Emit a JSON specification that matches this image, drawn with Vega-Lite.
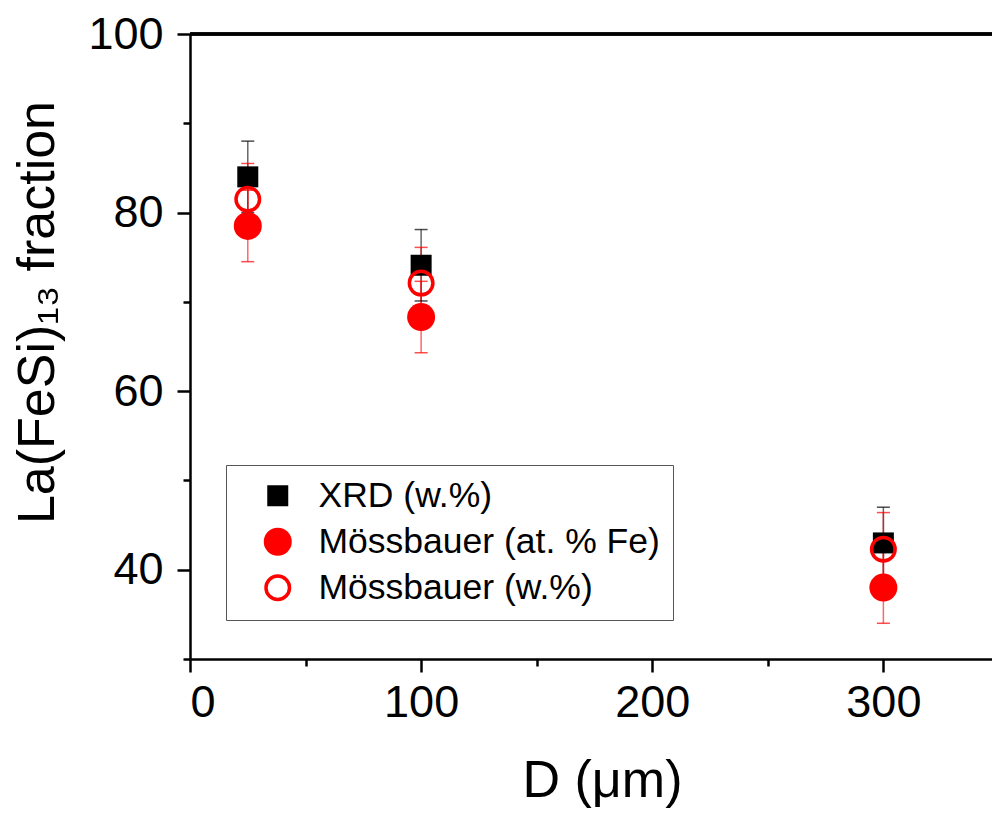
{
  "$schema": "https://vega.github.io/schema/vega-lite/v6.json",
  "width": 802,
  "height": 625,
  "autosize": {"type": "none"},
  "padding": {"left": 190, "top": 34, "right": 0, "bottom": 155},
  "background": "white",
  "config": {
    "view": {"stroke": null},
    "font": "Liberation Sans",
    "axis": {"grid": false, "domainColor": "black", "tickColor": "black", "labelColor": "black", "titleColor": "black", "domainWidth": 2.5, "tickWidth": 2.5, "titleFontWeight": "normal", "labelFontSize": 45, "titleFontSize": 52, "labelFont": "Liberation Sans", "titleFont": "Liberation Sans"}
  },
  "data": {
    "values": [
      {"D": 25, "series": "XRD (w.%)", "v": 84.0, "lo": 80.0, "hi": 88.0},
      {"D": 100, "series": "XRD (w.%)", "v": 74.1, "lo": 70.1, "hi": 78.1},
      {"D": 300, "series": "XRD (w.%)", "v": 43.0, "lo": 39.0, "hi": 47.0},
      {"D": 25, "series": "Mössbauer (at. % Fe)", "v": 78.5, "lo": 74.5, "hi": 82.5},
      {"D": 100, "series": "Mössbauer (at. % Fe)", "v": 68.3, "lo": 64.3, "hi": 72.3},
      {"D": 300, "series": "Mössbauer (at. % Fe)", "v": 38.0, "lo": 34.0, "hi": 42.0},
      {"D": 25, "series": "Mössbauer (w.%)", "v": 81.5, "lo": 77.5, "hi": 85.5},
      {"D": 100, "series": "Mössbauer (w.%)", "v": 72.1, "lo": 68.1, "hi": 76.1},
      {"D": 300, "series": "Mössbauer (w.%)", "v": 42.3, "lo": 38.3, "hi": 46.4}
    ]
  },
  "layer": [
    {
      "mark": {"type": "rule", "strokeWidth": 2.5, "color": "black"},
      "encoding": {"y": {"datum": 100, "type": "quantitative"}}
    },
    {
      "mark": {"type": "rule", "strokeWidth": 1.5, "opacity": 0.6},
      "encoding": {
        "x": {"field": "D", "type": "quantitative"},
        "y": {"field": "lo", "type": "quantitative"},
        "y2": {"field": "hi"},
        "color": {"field": "series", "type": "nominal", "scale": {"domain": ["Mössbauer (at. % Fe)", "Mössbauer (w.%)", "XRD (w.%)"], "range": ["red", "red", "black"]}, "legend": null}
      }
    },
    {
      "mark": {"type": "tick", "orient": "horizontal", "size": 13, "thickness": 1.5, "opacity": 0.7},
      "encoding": {
        "x": {"field": "D", "type": "quantitative"},
        "y": {"field": "lo", "type": "quantitative"},
        "color": {"field": "series", "type": "nominal", "legend": null}
      }
    },
    {
      "mark": {"type": "tick", "orient": "horizontal", "size": 13, "thickness": 1.5, "opacity": 0.7},
      "encoding": {
        "x": {"field": "D", "type": "quantitative"},
        "y": {"field": "hi", "type": "quantitative"},
        "color": {"field": "series", "type": "nominal", "legend": null}
      }
    },
    {
      "mark": {"type": "point", "opacity": 1, "strokeWidth": 3.5, "size": 784},
      "encoding": {
        "x": {"field": "D", "type": "quantitative", "scale": {"domain": [0, 347], "nice": false, "zero": false},
              "axis": {"orient": "bottom", "values": [0, 50, 100, 150, 200, 250, 300], "tickSize": {"condition": {"test": "datum.value % 100 === 0", "value": 13}, "value": 7}, "labelExpr": "datum.value % 100 === 0 ? datum.label : ''", "labelPadding": 8, "title": "D (μm)", "titleX": 412, "titleY": 137, "titleBaseline": "alphabetic", "titleAlign": "center"}},
        "y": {"field": "v", "type": "quantitative", "scale": {"domain": [30, 100], "nice": false, "zero": false},
              "axis": {"orient": "left", "values": [30, 40, 50, 60, 70, 80, 90, 100], "tickSize": {"condition": {"test": "datum.value % 20 === 0", "value": 13}, "value": 7}, "labelExpr": "datum.value % 20 === 0 ? datum.label : ''", "labelPadding": 14, "title": "La(FeSi)₁₃ fraction", "titleX": -153, "titleY": 278, "titleAlign": "center", "titleBaseline": "middle", "titleAngle": -90}},
        "shape": {"field": "series", "type": "nominal",
                  "scale": {"domain": ["XRD (w.%)", "Mössbauer (at. % Fe)", "Mössbauer (w.%)"], "range": ["M-0.75,-0.75H0.75V0.75H-0.75Z", "circle", "M-0.84,0A0.84,0.84 0 1,0 0.84,0A0.84,0.84 0 1,0 -0.84,0Z"]},
                  "legend": {"title": null, "orient": "none", "legendX": 36, "legendY": 431, "strokeColor": "#555555", "padding": 13, "symbolOffset": 21, "labelFontSize": 35.5, "labelFont": "Liberation Sans", "labelColor": "black", "labelOffset": 23, "labelLimit": 0, "rowPadding": 5, "symbolStrokeWidth": 3.5, "symbolSize": 784, "fillColor": "white"}},
        "fill": {"field": "series", "type": "nominal", "scale": {"domain": ["XRD (w.%)", "Mössbauer (at. % Fe)", "Mössbauer (w.%)"], "range": ["black", "red", "transparent"]},
                 "legend": {"title": null, "orient": "none", "legendX": 36, "legendY": 431, "labelLimit": 0}},
        "stroke": {"field": "series", "type": "nominal", "scale": {"domain": ["XRD (w.%)", "Mössbauer (at. % Fe)", "Mössbauer (w.%)"], "range": ["transparent", "transparent", "red"]},
                   "legend": {"title": null, "orient": "none", "legendX": 36, "legendY": 431, "labelLimit": 0}}
      }
    }
  ]
}
